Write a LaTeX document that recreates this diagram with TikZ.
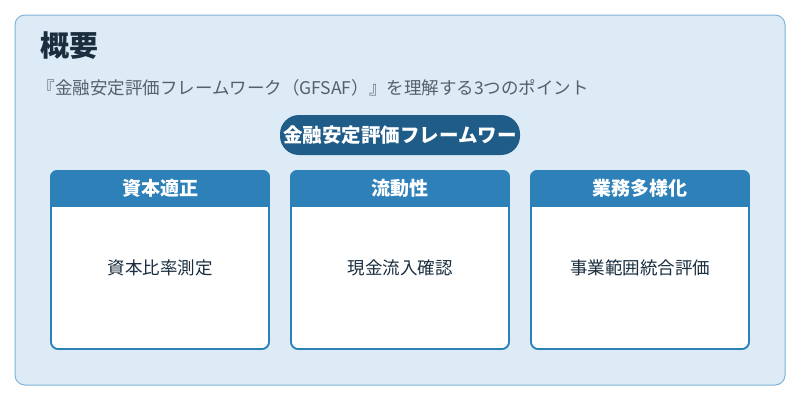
\documentclass[tikz,border=0pt]{standalone}
\usepackage{fontspec}
\newfontfamily\cjk{Noto Sans CJK JP}
\definecolor{bg}{HTML}{DCEBF6}
\definecolor{edge}{HTML}{7FB4D8}
\definecolor{pill}{HTML}{1F5C88}
\definecolor{hdr}{HTML}{2E80B8}
\definecolor{ttl}{HTML}{1A2E40}
\definecolor{sub}{HTML}{55606A}
\tikzset{
  card/.style={draw=hdr,line width=1.6pt,fill=white,rounded corners=7pt,minimum width=218pt,minimum height=178pt,inner sep=0pt},
  body/.style={font=\cjk\fontsize{17.5}{20}\selectfont,text=ttl},
}
\begin{document}
\begin{tikzpicture}[x=1pt,y=-1pt]
\useasboundingbox (0,0) rectangle (800,400);
\fill[white] (0,0) rectangle (800,400);
\node[draw=edge,line width=1pt,fill=bg,rounded corners=10pt,minimum width=770pt,minimum height=370pt,inner sep=0pt] (frame) at (400,200) {};
\node[anchor=west,font=\cjk\bfseries\fontsize{29}{32}\selectfont,text=ttl] (title) at (37,46) {概要};
\node[anchor=west,font=\cjk\fontsize{17.5}{20}\selectfont,text=sub] (subt) at (34,88) {『金融安定評価フレームワーク（GFSAF）』を理解する3つのポイント};
\node[fill=pill,rounded corners=19pt,minimum width=240pt,minimum height=40pt,inner sep=0pt,text=white,font=\cjk\bfseries\fontsize{19.5}{22}\selectfont] (pill) at (400,135) {金融安定評価フレームワー};
\foreach \x/\h/\b/\n in {160/資本適正/資本比率測定/a, 400/流動性/現金流入確認/b, 640/業務多様化/事業範囲統合評価/c}{
  \node[card] (card\n) at (\x,260) {};
  \begin{scope}
  \clip[rounded corners=7pt] (\x-110,170) rectangle (\x+110,350);
  \fill[hdr] (\x-110,170) rectangle (\x+110,207);
  \end{scope}
  \draw[hdr,line width=1.6pt,rounded corners=7pt] (\x-109,171) rectangle (\x+109,349);
  \node[text=white,font=\cjk\bfseries\fontsize{19}{22}\selectfont] (h\n) at (\x,188) {\h};
  \node[body] (b\n) at (\x,268) {\b};
}
\end{tikzpicture}
\end{document}
